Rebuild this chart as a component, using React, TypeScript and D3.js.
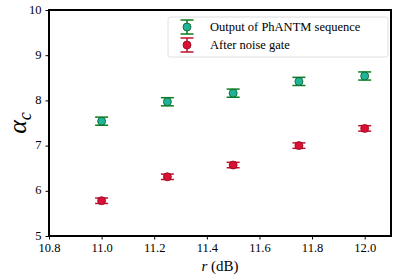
import { useEffect, useRef } from "react";
import * as d3 from "d3";

const rValues = [11.0, 11.25, 11.5, 11.75, 12.0];
const phantmAlpha = [7.54, 7.97, 8.16, 8.42, 8.54];
const phantmErr = [0.09, 0.09, 0.09, 0.09, 0.09];
const gateAlpha = [5.78, 6.31, 6.57, 7.0, 7.38];
const gateErr = [0.06, 0.06, 0.06, 0.06, 0.06];
const xTicks = [10.8, 11.0, 11.2, 11.4, 11.6, 11.8, 12.0];
const yTicks = [5, 6, 7, 8, 9, 10];

const W = 396;
const H = 279;
const FONT = "Liberation Serif, serif";

export default function App() {
  const svgRef = useRef<SVGSVGElement>(null);

  useEffect(() => {
    if (!svgRef.current) return;
    const svg = d3.select(svgRef.current);
    svg.selectAll("*").remove();

    const margin = { top: 10, right: 5, bottom: 43, left: 49 };
    const x = d3.scaleLinear().domain([10.8, 12.1]).range([margin.left, W - margin.right]);
    const y = d3.scaleLinear().domain([5, 10]).range([H - margin.bottom, margin.top]);

    const xAxis = svg
      .append("g")
      .attr("transform", `translate(0,${H - margin.bottom})`)
      .call(d3.axisBottom(x).tickValues(xTicks).tickFormat(d3.format(".1f")).tickSize(3.5).tickPadding(4));
    xAxis.attr("font-family", FONT).attr("font-size", 12.5);
    xAxis.select(".domain").remove();
    xAxis.selectAll("text").attr("fill", "#000");

    const yAxis = svg
      .append("g")
      .attr("transform", `translate(${margin.left},0)`)
      .call(d3.axisLeft(y).tickValues(yTicks).tickFormat(d3.format("d")).tickSize(3.5).tickPadding(4));
    yAxis.attr("font-family", FONT).attr("font-size", 12.5);
    yAxis.select(".domain").remove();
    yAxis.selectAll("text").attr("fill", "#000").attr("dy", "0.25em");

    const series = [
      { vals: phantmAlpha, errs: phantmErr, bar: "#0a7d1e", fill: "#1fb39a", edge: "#0b5e1c" },
      { vals: gateAlpha, errs: gateErr, bar: "#c0102c", fill: "#dc0f35", edge: "#8a0a1e" },
    ];

    const capW = 6.5;
    series.forEach((s) => {
      const g = svg.append("g");
      rValues.forEach((r, i) => {
        const cx = x(r);
        const y0 = y(s.vals[i] - s.errs[i]);
        const y1 = y(s.vals[i] + s.errs[i]);
        g.append("line").attr("x1", cx).attr("x2", cx).attr("y1", y0).attr("y2", y1)
          .attr("stroke", s.bar).attr("stroke-width", 1.5);
        [y0, y1].forEach((yy) =>
          g.append("line").attr("x1", cx - capW).attr("x2", cx + capW).attr("y1", yy).attr("y2", yy)
            .attr("stroke", s.bar).attr("stroke-width", 1.5)
        );
        g.append("circle").attr("cx", cx).attr("cy", y(s.vals[i])).attr("r", 4)
          .attr("fill", s.fill).attr("stroke", s.edge).attr("stroke-width", 0.8);
      });
    });

    // frame
    svg.append("rect")
      .attr("x", margin.left).attr("y", margin.top)
      .attr("width", W - margin.left - margin.right)
      .attr("height", H - margin.top - margin.bottom)
      .attr("fill", "none").attr("stroke", "#000").attr("stroke-width", 2);

    // legend
    const leg = svg.append("g").attr("transform", "translate(168,17)");
    leg.append("rect").attr("width", 220).attr("height", 40).attr("rx", 2.5)
      .attr("fill", "#fff").attr("fill-opacity", 0.8).attr("stroke", "#d8d8d8").attr("stroke-width", 0.8);
    const labels = ["Output of PhANTM sequence", "After noise gate"];
    series.forEach((s, i) => {
      const cy = 10 + i * 18;
      const cx = 19;
      leg.append("line").attr("x1", cx).attr("x2", cx).attr("y1", cy - 7).attr("y2", cy + 7)
        .attr("stroke", s.bar).attr("stroke-width", 1.5);
      [cy - 7, cy + 7].forEach((yy) =>
        leg.append("line").attr("x1", cx - 6.5).attr("x2", cx + 6.5).attr("y1", yy).attr("y2", yy)
          .attr("stroke", s.bar).attr("stroke-width", 1.5)
      );
      leg.append("circle").attr("cx", cx).attr("cy", cy).attr("r", 4)
        .attr("fill", s.fill).attr("stroke", s.edge).attr("stroke-width", 0.8);
      leg.append("text").attr("x", 42).attr("y", cy).attr("dy", "0.35em")
        .attr("font-family", FONT).attr("font-size", 12.5).text(labels[i]);
    });

    // axis labels
    const xl = svg.append("text").attr("x", (margin.left + W - margin.right) / 2).attr("y", 271)
      .attr("text-anchor", "middle").attr("font-family", FONT).attr("font-size", 15);
    xl.append("tspan").attr("font-style", "italic").text("r");
    xl.append("tspan").text(" (dB)");

    const yl = svg.append("text").attr("transform", `translate(26,${(margin.top + H - margin.bottom) / 2}) rotate(-90)`)
      .attr("text-anchor", "middle").attr("font-family", FONT).attr("font-size", 26).attr("font-style", "italic");
    yl.append("tspan").text("α");
    yl.append("tspan").attr("dy", 5).attr("font-size", 18).text("c");
  }, []);

  return (
    <svg
      ref={svgRef}
      width={W}
      height={H}
      style={{ position: "absolute", left: 0, top: 0, background: "#fff" }}
    />
  );
}
